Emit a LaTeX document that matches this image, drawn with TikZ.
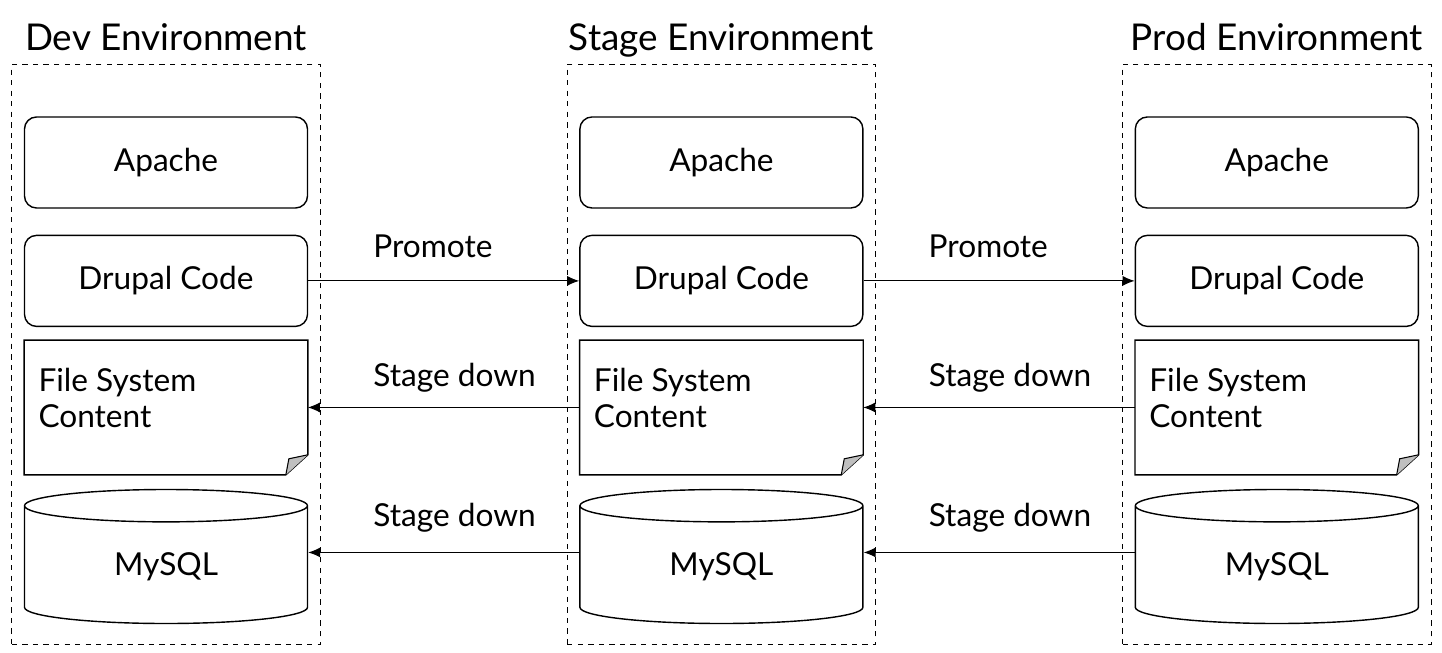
\documentclass[tikz,border=0pt]{standalone}
\usepackage{fontspec}
\setmainfont{Lato}
\usetikzlibrary{calc,positioning,fit,arrows.meta,shapes.geometric}
\tikzset{
  line/.style     = {-{Latex[length=2.4mm,width=2mm]}, line width=0.6pt},
  layer/.style    = {draw, rounded corners=2.4mm, line width=0.8pt, minimum width=56.6mm, minimum height=18.2mm},
  notebox/.style  = {minimum width=56.6mm, minimum height=26.8mm},
  notetext/.style = {align=left, inner sep=0pt},
  dbbox/.style    = {draw, cylinder, shape border rotate=90, aspect=0.28, line width=0.8pt, minimum width=56.6mm, minimum height=26.8mm},
  envbox/.style   = {draw, dashed, line width=0.6pt, inner xsep=2.4mm, inner ysep=4mm},
  envtitle/.style = {font=\fontsize{21}{24}\selectfont, text depth=0pt},
  lbl/.style      = {pos=0.46},
}
\begin{document}
\begin{tikzpicture}[font=\fontsize{18}{20.5}\selectfont]
  \useasboundingbox (0,0) rectangle (28.84,13.06);
  % dev
  \node[layer] (apDev) at (3.32,9.81) {Apache};
  \node[layer, below=5.2mm of apDev] (drDev) {Drupal Code};
  \node[notebox, below=2.6mm of drDev] (fsDev) {};
  \node[dbbox, below=2.8mm of fsDev] (dbDev) {MySQL};
  % stage
  \node[layer, right=54.2mm of apDev] (apStage) {Apache};
  \node[layer, below=5.2mm of apStage] (drStage) {Drupal Code};
  \node[notebox, below=2.6mm of drStage] (fsStage) {};
  \node[dbbox, below=2.8mm of fsStage] (dbStage) {MySQL};
  % prod
  \node[layer, right=54.2mm of apStage] (apProd) {Apache};
  \node[layer, below=5.2mm of apProd] (drProd) {Drupal Code};
  \node[notebox, below=2.6mm of drProd] (fsProd) {};
  \node[dbbox, below=2.8mm of fsProd] (dbProd) {MySQL};

  \foreach \e/\t in {Dev/Dev Environment, Stage/Stage Environment, Prod/Prod Environment} {
    \node[notetext, below right=5.5mm and 2.8mm of fs\e.north west] (fsTxt\e) {File System\\Content};
    \draw[line width=0.8pt] (fs\e.north west) -- (fs\e.north east) -- ($(fs\e.south east)+(0,4mm)$)
      -- ($(fs\e.south east)+(-4.4mm,0)$) -- (fs\e.south west) -- cycle;
    \filldraw[fill=black!25, line width=0.6pt] ($(fs\e.south east)+(0,4mm)$) -- ($(fs\e.south east)+(-3.8mm,3.2mm)$)
      -- ($(fs\e.south east)+(-4.4mm,0)$);
    \coordinate (dbMid\e) at ($(db\e.north)!0.47!(db\e.south)$);
    \node[envbox, fit={($(ap\e.north)+(0,6.4mm)$) (ap\e) (db\e.south)}] (env\e) {};
    \node[envtitle, above=1.5mm of env\e] (title\e) {\t};
  }

  \draw[line] (drDev) -- node[lbl, above=3.4mm] (lblPromA) {Promote} (drStage);
  \draw[line] (drStage) -- node[lbl, above=3.4mm] (lblPromB) {Promote} (drProd);
  \draw[line] (fsStage) -- node[lbl, above=1.7mm] (lblFsA) {Stage down} (fsDev);
  \draw[line] (fsProd) -- node[lbl, above=1.7mm] (lblFsB) {Stage down} (fsStage);
  \draw[line] (dbStage.west |- dbMidStage) -- node[lbl, above=2.8mm] (lblDbA) {Stage down} (dbDev.east |- dbMidDev);
  \draw[line] (dbProd.west |- dbMidProd) -- node[lbl, above=2.8mm] (lblDbB) {Stage down} (dbStage.east |- dbMidStage);
\end{tikzpicture}
\end{document}
